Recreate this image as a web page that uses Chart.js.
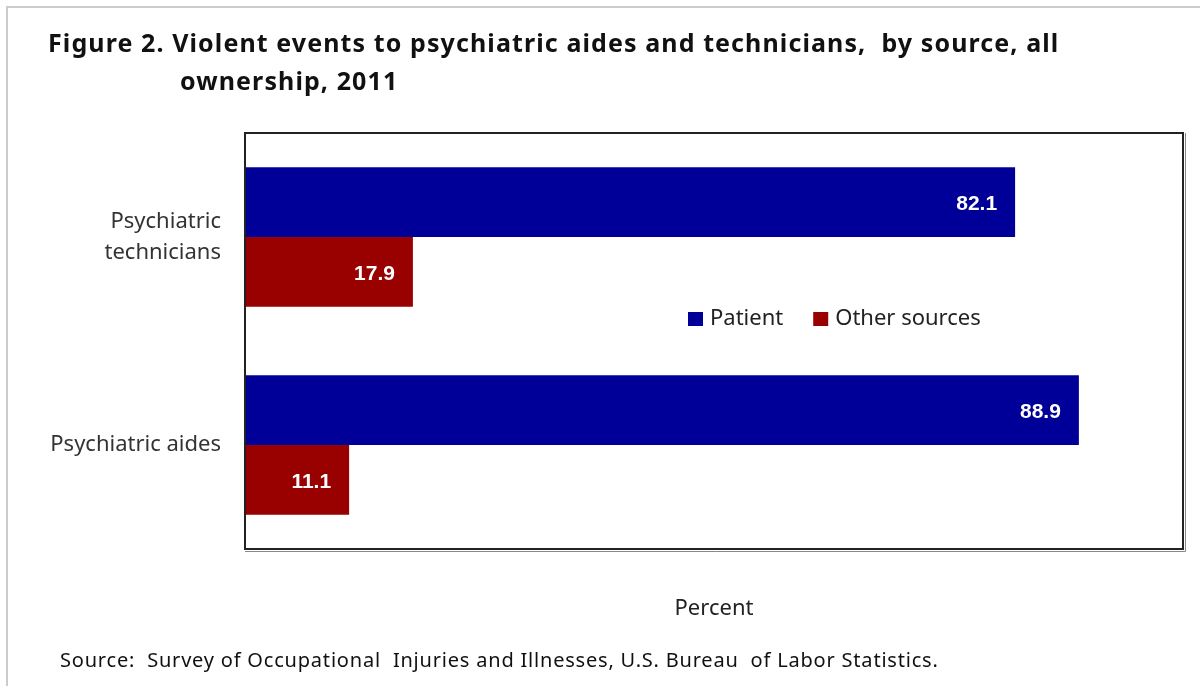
<!DOCTYPE html>
<html lang="en">
<head>
    <meta charset="UTF-8">
    <title>Violent events to psychiatric aides and technicians</title>
    <script src="https://cdn.jsdelivr.net/npm/chart.js"></script>
    <style>
        html, body { margin: 0; padding: 0; background: #fff; }
        .chart-wrap { width: 1200px; height: 686px; position: relative; }
    </style>
</head>
<body>
    <div class="chart-wrap">
        <canvas id="sourceChart"></canvas>
    </div>

    <script>
        // occupations (top to bottom) and share of violent events by source, percent
        const occupations = [["Psychiatric", "technicians"], "Psychiatric aides"];
        const patientPct = [82.1, 88.9];
        const otherPct = [17.9, 11.1];
        const sourceNames = ["Patient", "Other sources"];
        const titleLines = [
            "Figure 2. Violent events to psychiatric aides and technicians,  by source, all",
            "ownership, 2011"
        ];
        const sourceNote = "Source:  Survey of Occupational  Injuries and Illnesses, U.S. Bureau  of Labor Statistics.";

        const BLUE = "#000099";
        const RED = "#990000";

        // page frame, title, plot box, legend and source line
        const decorations = {
            id: "decorations",
            beforeDraw(chart) {
                const ctx = chart.ctx;
                ctx.save();
                ctx.fillStyle = "#fff";
                ctx.fillRect(0, 0, chart.width, chart.height);
                ctx.strokeStyle = "#cccccc";
                ctx.lineWidth = 2;
                ctx.beginPath();
                ctx.moveTo(7, chart.height);
                ctx.lineTo(7, 7);
                ctx.lineTo(chart.width, 7);
                ctx.stroke();
                ctx.restore();
            },
            afterDraw(chart) {
                const ctx = chart.ctx;
                const a = chart.chartArea;
                ctx.save();

                // title
                ctx.fillStyle = "#111";
                ctx.font = "bold 25px 'Noto Sans', sans-serif";
                ctx.letterSpacing = "1.1px";
                ctx.textBaseline = "middle";
                ctx.textAlign = "left";
                ctx.fillText(titleLines[0], 48, 45);
                ctx.fillText(titleLines[1], 180, 83);

                // plot box with a slight shadow edge
                ctx.strokeStyle = "#888";
                ctx.lineWidth = 1;
                ctx.beginPath();
                ctx.moveTo(a.right + 2.5, a.top);
                ctx.lineTo(a.right + 2.5, a.bottom + 2.5);
                ctx.lineTo(a.left, a.bottom + 2.5);
                ctx.stroke();
                ctx.strokeStyle = "#222";
                ctx.lineWidth = 2;
                ctx.strokeRect(a.left, a.top, a.right - a.left, a.bottom - a.top);

                // legend inside the plot
                ctx.letterSpacing = "0px";
                ctx.font = "22px 'Noto Sans', sans-serif";
                let lx = 688;
                const ly = 319;
                chart.data.datasets.forEach((ds) => {
                    ctx.fillStyle = ds.backgroundColor;
                    ctx.fillRect(lx, ly - 7, 15, 14);
                    ctx.fillStyle = "#222";
                    ctx.fillText(ds.label, lx + 22, ly);
                    lx += 22 + ctx.measureText(ds.label).width + 30;
                });

                // source note
                ctx.font = "20px 'Noto Sans', sans-serif";
                ctx.letterSpacing = "0.8px";
                ctx.fillStyle = "#111";
                ctx.fillText(sourceNote, 60, 661);
                ctx.restore();
            }
        };

        // white value labels at the inner end of each bar
        const barValues = {
            id: "barValues",
            afterDatasetsDraw(chart) {
                const ctx = chart.ctx;
                ctx.save();
                ctx.font = "bold 21px 'Liberation Sans', Arial, sans-serif";
                ctx.fillStyle = "#fff";
                ctx.textAlign = "right";
                ctx.textBaseline = "middle";
                chart.data.datasets.forEach((ds, i) => {
                    chart.getDatasetMeta(i).data.forEach((bar, j) => {
                        ctx.fillText(ds.data[j].toFixed(1), bar.x - 18, bar.y + 2);
                    });
                });
                ctx.restore();
            }
        };

        new Chart(document.getElementById("sourceChart"), {
            type: "bar",
            data: {
                labels: occupations,
                datasets: [
                    { label: sourceNames[0], data: patientPct, backgroundColor: BLUE },
                    { label: sourceNames[1], data: otherPct, backgroundColor: RED }
                ]
            },
            options: {
                indexAxis: "y",
                responsive: true,
                maintainAspectRatio: false,
                animation: false,
                layout: { padding: { top: 133, right: 17, left: 0, bottom: 0 } },
                datasets: {
                    bar: { categoryPercentage: 0.67, barPercentage: 1 }
                },
                plugins: {
                    legend: { display: false },
                    tooltip: { enabled: false }
                },
                scales: {
                    x: {
                        min: 0,
                        max: 100,
                        grid: { display: false, drawTicks: false },
                        border: { display: false },
                        ticks: { display: false },
                        title: {
                            display: true,
                            text: "Percent",
                            color: "#222",
                            font: { family: "'Noto Sans', sans-serif", size: 22 },
                            padding: { top: 0, bottom: 64 }
                        },
                        afterFit(scale) { scale.height = 686 - 549; }
                    },
                    y: {
                        grid: { display: false, drawTicks: false },
                        border: { display: false },
                        ticks: {
                            color: "#333",
                            padding: 24,
                            font: { family: "'Noto Sans', sans-serif", size: 22, lineHeight: 1.4 }
                        },
                        afterFit(scale) { scale.width = 245; }
                    }
                }
            },
            plugins: [decorations, barValues]
        });
    </script>
</body>
</html>
